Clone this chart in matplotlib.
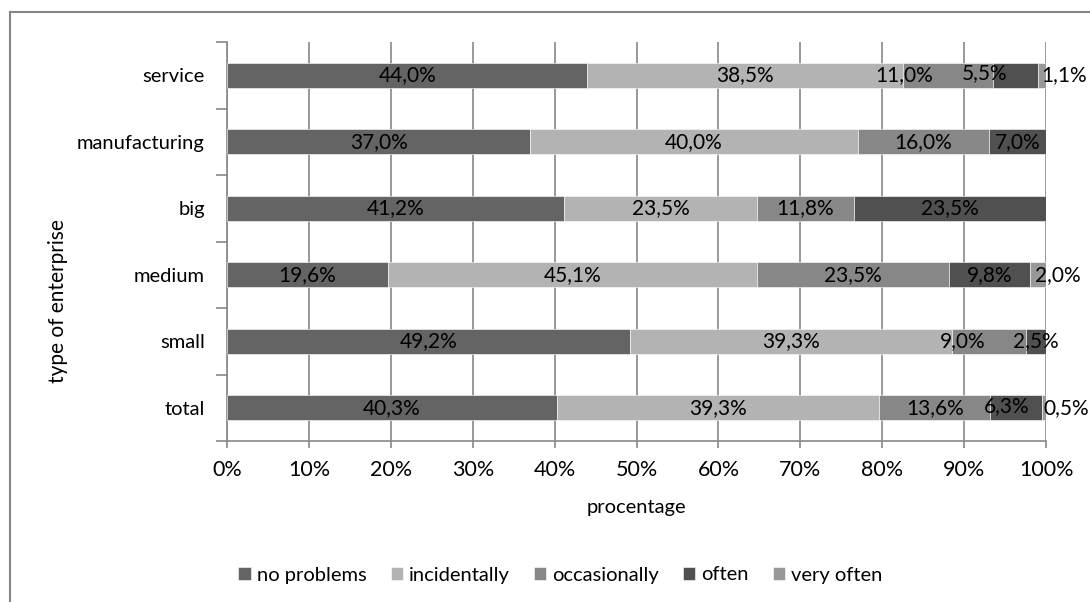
import matplotlib
matplotlib.use("Agg")
import matplotlib.pyplot as plt
from matplotlib.lines import Line2D
import numpy as np

plt.rcParams['font.family'] = ['Lato', 'DejaVu Sans']

# survey results, share of answers per type of enterprise (%)
enterprises = ['total', 'small', 'medium', 'big', 'manufacturing', 'service']
answers = ['no problems', 'incidentally', 'occasionally', 'often', 'very often']

no_problems = [40.3, 49.2, 19.6, 41.2, 37.0, 44.0]
incidentally = [39.3, 39.3, 45.1, 23.5, 40.0, 38.5]
occasionally = [13.6, 9.0, 23.5, 11.8, 16.0, 11.0]
often = [6.3, 2.5, 9.8, 23.5, 7.0, 5.5]
very_often = [0.5, 0.0, 2.0, 0.0, 0.0, 1.1]

series = [no_problems, incidentally, occasionally, often, very_often]
colors = ['#646464', '#b3b3b3', '#878787', '#505050', '#989898']

# labels that get pushed aside so they don't collide (dx in %, dy in rows)
nudge = {
    (5, 2): (-5.3, 0.0), (5, 3): (-3.8, 0.03), (5, 4): (2.6, 0.0),
    (2, 4): (2.4, 0.0),
    (1, 2): (-3.2, 0.0),
    (0, 3): (-1.2, 0.03), (0, 4): (2.75, 0.0),
}

fig = plt.figure(figsize=(10.9, 6.02), dpi=100)
ax = fig.add_axes([0.2083, 0.2674, 0.7514, 0.6628])

grey = '#878787'
fs_tick = 15.5
fs_bar = 15
fs_cat = 14.5
fs_lab = 14.5

y = np.arange(len(enterprises))
left = np.zeros(len(enterprises))
for j, (vals, col, name) in enumerate(zip(series, colors, answers)):
    vals = np.array(vals)
    ax.barh(y, vals, left=left, height=0.38, color=col, label=name,
            edgecolor='white', linewidth=0.4, zorder=3)
    for i, v in enumerate(vals):
        if v <= 0:
            continue
        dx, dy = nudge.get((i, j), (0.0, 0.0))
        ax.text(left[i] + v / 2 + dx, y[i] + dy,
                ('%.1f%%' % v).replace('.', ','),
                ha='center', va='center', fontsize=fs_bar, color='black',
                zorder=5, clip_on=False)
    left += vals

ax.set_xlim(0, 100)
ax.set_ylim(-0.5, len(enterprises) - 0.5)

ax.set_xticks(np.arange(0, 101, 10))
ax.set_xticklabels(['%d%%' % t for t in range(0, 101, 10)], fontsize=fs_tick)
ax.tick_params(axis='x', length=5, width=1.2, color=grey, pad=9)

ax.set_yticks(np.arange(-0.5, len(enterprises), 1.0))
ax.set_yticklabels([])
ax.set_yticks(y, minor=True)
ax.set_yticklabels(enterprises, minor=True, fontsize=fs_cat)
ax.tick_params(axis='y', which='major', length=8, width=1.2, color=grey)
ax.tick_params(axis='y', which='minor', length=0, pad=16)

ax.grid(axis='x', color=grey, linewidth=1.2)
ax.set_axisbelow(True)
for s in ['top', 'right']:
    ax.spines[s].set_visible(False)
for s in ['left', 'bottom']:
    ax.spines[s].set_color(grey)
    ax.spines[s].set_linewidth(1.2)

ax.set_xlabel('procentage', fontsize=fs_lab, labelpad=13)
fig.text(0.053, 0.5, 'type of enterprise', rotation=90,
         ha='center', va='center', fontsize=15)

ax.legend(loc='center', bbox_to_anchor=(0.514, 1 - 575 / 602),
          bbox_transform=fig.transFigure, ncol=5, frameon=False,
          fontsize=fs_lab, handlelength=0.6, handleheight=0.6,
          handletextpad=0.3, columnspacing=1.2)

# chart area border (runs off the right and bottom edge)
fig.add_artist(Line2D([0.0092, 0.0092], [0.0, 0.98], color=grey, lw=1.5))
fig.add_artist(Line2D([0.0092, 1.0], [0.98, 0.98], color=grey, lw=1.5))

fig.savefig('out.png', dpi=100)
